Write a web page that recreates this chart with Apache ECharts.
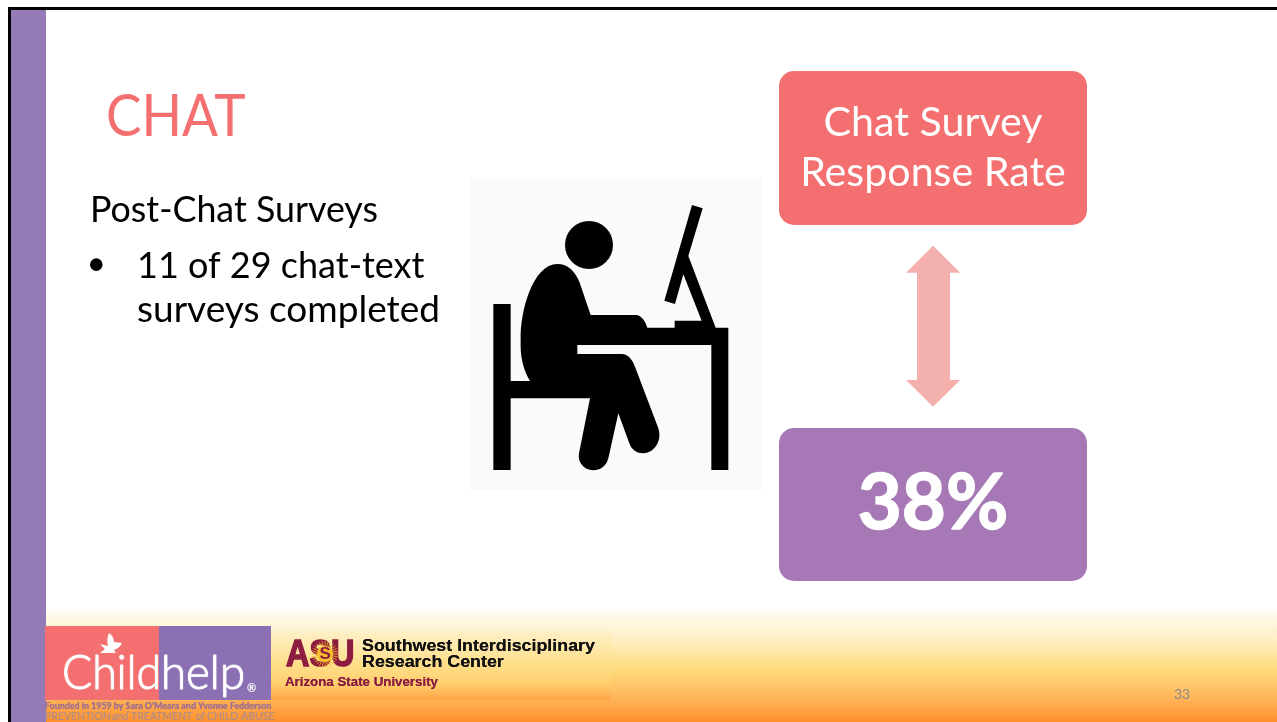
<!DOCTYPE html>
<html>
<head>
<meta charset="utf-8">
<title>CHAT</title>
<script src="https://cdn.jsdelivr.net/npm/echarts@6/dist/echarts.min.js"></script>
<style>
html,body{margin:0;padding:0;background:#fff;}
#slide{width:1277px;height:722px;}
</style>
</head>
<body>
<div id="slide"></div>
<script>
// Survey figures shown on the slide
const surveysCompleted = [11];
const surveysSent = [29];
const responseRate = [38];

// Slide wording
const slideTitle = ['CHAT'];
const sectionHeading = ['Post-Chat Surveys'];
const bulletTail = ['chat-text', 'surveys completed'];
const rateHeading = ['Chat Survey', 'Response Rate'];
const pageNumber = ['33'];
const partnerLines = ['Founded in 1959 by Sara O\u2019Meara and Yvonne Fedderson'];
const centerLines = ['Southwest Interdisciplinary', 'Research Center', 'Arizona State University'];

const CORAL = '#F47070', PURPLE = '#A678B5', SIDEBAR = '#947BB8';
const LATO = 'Lato, Carlito, "Open Sans", sans-serif';
const ARIAL = '"Liberation Sans", Arial, sans-serif';

// Text placed by its baseline
function label(text, x, baseline, size, fill, opts) {
  opts = opts || {};
  const family = opts.family || LATO;
  const ratio = family === ARIAL ? 0.33 : 0.31;
  const style = {
    text: text,
    x: opts.scaleX ? 0 : x,
    y: baseline - ratio * size,
    fill: fill,
    font: (opts.style || 'normal') + ' ' + (opts.weight || 400) + ' ' + size + 'px ' + family,
    textAlign: opts.align || 'left',
    textVerticalAlign: 'middle',
    textShadowColor: opts.soft ? fill : 'transparent',
    textShadowBlur: opts.soft || 0
  };
  if (opts.stroke) {
    style.stroke = fill;
    style.lineWidth = opts.stroke;
  }
  return { type: 'text', x: opts.scaleX ? x : 0, scaleX: opts.scaleX || 1, originX: 0, style: style };
}
function box(x, y, w, h, fill, r) {
  return { type: 'rect', shape: { x: x, y: y, width: w, height: h, r: r || 0 }, style: { fill: fill } };
}
function vGradient(stops) {
  return new echarts.graphic.LinearGradient(0, 0, 0, 1, stops.map(s => ({ offset: s[0], color: s[1] })));
}

// Seated figure at a desk, traced on a 3x grid anchored to the icon panel
const figureOutline = 'M70 372H122V603H180C160 570 150 530 152 480C150 390 190 252 262 252C295 252 315 275 328 305' +
  'L362 405H500C515 407 527 425 532 443H614V422H695L640 283L615 372L583 362L666 75L698 85L655 228L737 443H775V870H724V495' +
  'H322V522H455C475 522 487 540 495 560L565 745C578 785 550 820 520 820C500 820 485 810 478 790L445 700L415 835' +
  'C408 860 390 871 370 871C340 871 322 845 327 820L360 655H122V870H70Z';
const dovePath = 'M109 633C112 635 114 638 114 642L122 643C120 647 117 649 114 650L116 653L100 653L105 649L100 644L108 646C107 642 107 637 109 633Z';

function sunRays(cx, cy, inner, outer, count) {
  const lines = [];
  for (let i = 0; i < count; i++) {
    const a = (i / count) * Math.PI * 2;
    lines.push({
      type: 'line',
      shape: { x1: cx + inner * Math.cos(a), y1: cy + inner * Math.sin(a), x2: cx + outer * Math.cos(a), y2: cy + outer * Math.sin(a) },
      style: { stroke: '#F6B626', lineWidth: 0.8 }
    });
  }
  return lines;
}

function slideElements() {
  const rateText = responseRate[0] + '%';
  const bulletHead = surveysCompleted[0] + ' of ' + surveysSent[0] + ' ' + bulletTail[0];
  return [
    // Footer wash, then frame and sidebar on top of it
    box(0, 0, 1277, 722, '#FFFFFF'),
    {
      type: 'rect',
      shape: { x: 46, y: 604, width: 1231, height: 118 },
      style: { fill: vGradient([[0, 'rgba(255,255,255,0)'], [0.1, '#FFF9EA'], [0.3, '#FEEFC4'], [0.54, '#FFDD80'], [0.8, '#FFB559'], [1, '#FF8F2D']]) }
    },
    box(8, 7, 1269, 3, '#000000'),
    box(8, 7, 3, 715, '#000000'),
    box(11, 10, 35, 712, SIDEBAR),

    // Headings
    label(slideTitle[0], 106, 135.5, 59, CORAL, { scaleX: 0.9 }),
    label(sectionHeading[0], 90, 222, 35.8, '#000000'),
    { type: 'circle', shape: { cx: 96.3, cy: 264.6, r: 6.3 }, style: { fill: '#000000' } },
    label(bulletHead, 137, 278, 36, '#000000'),
    label(bulletTail[1], 137, 322, 37, '#000000'),

    // Desk figure
    box(470, 179, 292, 311, '#FAFAFA'),
    { type: 'path', x: 470, y: 180, scaleX: 1 / 3, scaleY: 1 / 3, shape: { pathData: figureOutline }, style: { fill: '#000000' } },
    { type: 'circle', shape: { cx: 589, cy: 245, r: 24 }, style: { fill: '#000000' } },

    // Response-rate cards
    box(779, 71, 308, 154, CORAL, 15),
    label(rateHeading[0], 933, 135, 41.2, '#FFFFFF', { align: 'center' }),
    label(rateHeading[1], 933, 185, 41.2, '#FFFFFF', { align: 'center' }),
    {
      type: 'polygon',
      shape: { points: [[933, 245.7], [960.3, 272.7], [950, 272.7], [950, 380], [960.3, 380], [933, 406.7], [906, 380], [917, 380], [917, 272.7], [906, 272.7]] },
      style: { fill: '#F4B0AC' }
    },
    box(779, 428, 308, 153, PURPLE, 15),
    label(rateText, 933, 528, 76, '#FFFFFF', { align: 'center', weight: 700, stroke: 1.5 }),

    // Partner logo, left
    box(45, 626, 114, 74, CORAL),
    box(159, 626, 112, 74, '#8B70B4'),
    { type: 'path', shape: { pathData: dovePath }, style: { fill: '#FFFFFF' } },
    label('Child', 62, 688, 48, '#FFFFFF', { weight: 300, scaleX: 0.93, stroke: 0.6, soft: 1 }),
    label('help', 161, 688, 48, '#FFFFFF', { weight: 300, scaleX: 0.95, stroke: 0.6, soft: 1 }),
    label('\u00AE', 247, 692, 11, '#FFFFFF', { soft: 1 }),
    label(partnerLines[0], 45, 709, 8.9, '#A0708F', { weight: 700, soft: 1 }),
    label('PREVENTION', 45, 720, 10.5, '#B98E7E', { soft: 1 }),
    label('and', 112, 720, 10.5, '#B98E7E', { style: 'italic', soft: 1 }),
    label('TREATMENT', 131, 720, 10.5, '#B98E7E', { soft: 1 }),
    label('of', 196, 720, 10.5, '#B98E7E', { style: 'italic', soft: 1 }),
    label('CHILD ABUSE', 207, 720, 10.5, '#B98E7E', { soft: 1 }),

    // Research-center logo, right
    {
      type: 'rect',
      shape: { x: 271, y: 631, width: 340, height: 69 },
      style: { fill: vGradient([[0, '#FEF0C8'], [0.45, '#FFE08E'], [0.75, '#FFD070'], [1, '#FFA546']]) }
    },
    label('ASU', 286, 668, 36, '#8C1D40', { family: ARIAL, weight: 700, scaleX: 0.9, stroke: 1.5 }),
    ...sunRays(325, 654, 6, 13, 28),
    { type: 'circle', shape: { cx: 325, cy: 654, r: 8 }, style: { fill: '#F8BE2C' } },
    label('S', 319.5, 660, 17, '#8C1D40', { family: ARIAL, weight: 700 }),
    label(centerLines[0], 362, 652, 16, '#111111', { family: ARIAL, weight: 700, scaleX: 1.115, soft: 0.5 }),
    label(centerLines[1], 362, 667.5, 16, '#111111', { family: ARIAL, weight: 700, scaleX: 1.115, soft: 0.5 }),
    label(centerLines[2], 285, 686.5, 13.3, '#8C1D40', { family: ARIAL, weight: 700, soft: 0.5 }),

    // Page number
    label(pageNumber[0], 1174, 699, 14, '#8B8B8B')
  ];
}

const chart = echarts.init(document.getElementById('slide'), null, { renderer: 'canvas' });
chart.setOption({
  animation: false,
  backgroundColor: '#FFFFFF',
  series: [{
    type: 'custom',
    coordinateSystem: 'none',
    silent: true,
    data: [responseRate[0]],
    renderItem: function () {
      return { type: 'group', children: slideElements() };
    }
  }]
});
</script>
</body>
</html>
